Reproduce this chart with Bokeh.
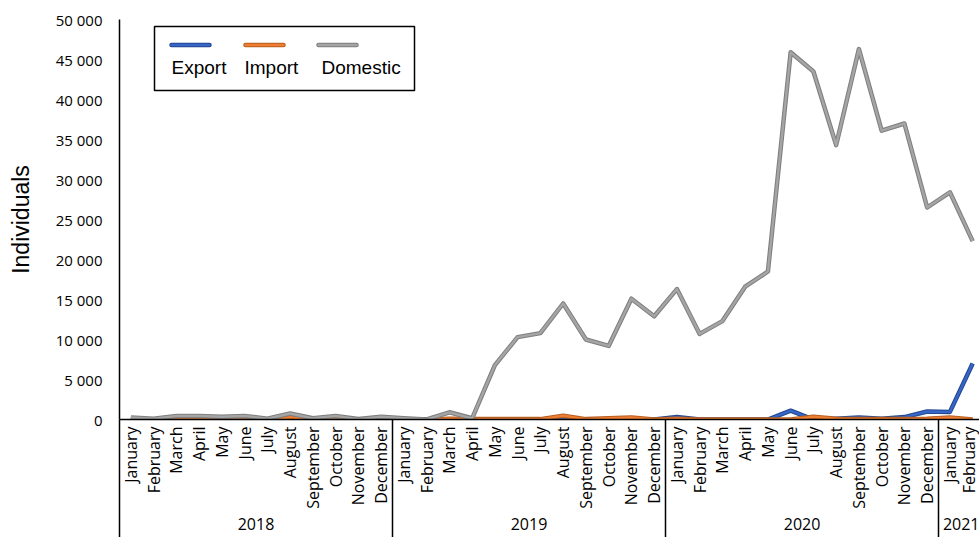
import math
from bokeh.plotting import figure
from bokeh.models import (ColumnDataSource, Range1d, FixedTicker, LinearAxis,
                          BoxAnnotation, PolyAnnotation, Label)
from bokeh.embed import file_html
from bokeh.resources import INLINE

# ---------------- data ----------------
month_names = ["January", "February", "March", "April", "May", "June", "July",
               "August", "September", "October", "November", "December"]
years = ["2018", "2019", "2020", "2021"]
months_per_year = [12, 12, 12, 2]

export = [0, 0, 0, 0, 0, 0, 0, 0, 0, 0, 0, 0,
          0, 0, 0, 0, 0, 0, 0, 150, 0, 0, 0, 0,
          300, 0, 0, 0, 0, 1100, 0, 100, 250, 100, 300, 1000,
          950, 7000]
imports = [0, 0, 100, 100, 100, 100, 0, 280, 0, 100, 0, 50,
           0, 0, 100, 50, 50, 50, 50, 480, 50, 170, 250, 0,
           100, 0, 0, 0, 0, 0, 350, 100, 50, 50, 50, 100,
           250, 0]
domestic = [250, 100, 450, 450, 350, 450, 100, 750, 150, 450, 50, 350,
            150, 0, 900, 150, 6800, 10300, 10800, 14500, 10000, 9200, 15100, 12900,
            16300, 10700, 12300, 16600, 18500, 45900, 43500, 34300, 46300, 36100, 37000, 26500,
            28400, 22300]

y_ticks = [0, 5000, 10000, 15000, 20000, 25000, 30000, 35000, 40000, 45000, 50000]
y_tick_labels = ["0", "5 000", "10 000", "15 000", "20 000", "25 000",
                 "30 000", "35 000", "40 000", "45 000", "50 000"]

series_names = ["Export", "Import", "Domestic"]
series_main = ["#3566C8", "#ED7D31", "#A5A5A5"]
series_edge = ["#24478F", "#B85F22", "#7F7F7F"]

# ---------------- derived positions ----------------
month_labels = []
for yr, n in zip(years, months_per_year):
    month_labels += month_names[:n]
x_idx = list(range(len(month_labels)))
boundaries = [-0.5]
year_centers = []
start = 0
for n in months_per_year:
    year_centers.append(start + (n - 1) / 2)
    start += n
    if start < len(month_labels):
        boundaries.append(start - 0.5)

source = ColumnDataSource(dict(x=x_idx, Export=export, Import=imports, Domestic=domestic))

# ---------------- figure ----------------
p = figure(width=979, height=537, output_backend="svg", toolbar_location=None,
           x_range=Range1d(-0.5, 37.3), y_range=Range1d(0, 50000),
           min_border_left=119, min_border_top=19, min_border_bottom=118,
           min_border_right=0)
p.xgrid.visible = False
p.ygrid.visible = False
p.outline_line_color = None
p.background_fill_color = "white"
p.border_fill_color = "white"

for name, main, edge in zip(series_names, series_main, series_edge):
    p.line("x", name, source=source, line_color=edge, line_width=4.5, line_join="round")
    p.line("x", name, source=source, line_color=main, line_width=2.4, line_join="round")

# y axis
ya = p.yaxis[0]
ya.ticker = FixedTicker(ticks=y_ticks)
ya.major_label_overrides = {v: s for v, s in zip(y_ticks, y_tick_labels)}
ya.major_tick_out = 0
ya.major_tick_in = 0
ya.minor_tick_out = 0
ya.minor_tick_in = 0
ya.axis_line_color = "black"
ya.axis_line_width = 1.5
ya.major_label_text_font = "Open Sans"
ya.major_label_text_font_size = "15px"
ya.major_label_text_color = "black"
ya.major_label_standoff = 17
ya.axis_label = "Individuals"
ya.axis_label_text_font = "Liberation Sans"
ya.axis_label_text_font_size = "23px"
ya.axis_label_text_font_style = "normal"
ya.axis_label_text_color = "black"
ya.axis_label_standoff = 19

# x axis: months (year separators drawn as long minor ticks)
xa = p.xaxis[0]
xa.ticker = FixedTicker(ticks=x_idx, minor_ticks=boundaries)
xa.major_label_overrides = {i: m for i, m in zip(x_idx, month_labels)}
xa.major_label_orientation = math.pi / 2
xa.major_tick_out = 0
xa.major_tick_in = 0
xa.minor_tick_in = 0
xa.minor_tick_out = 118
xa.minor_tick_line_color = "black"
xa.minor_tick_line_width = 1.5
xa.axis_line_color = "black"
xa.axis_line_width = 1.5
xa.major_label_text_font = "Open Sans"
xa.major_label_text_font_size = "16px"
xa.major_label_text_color = "black"
xa.major_label_standoff = -111

# x axis: years
xb = LinearAxis(ticker=FixedTicker(ticks=year_centers),
                major_label_overrides={c: y for c, y in zip(year_centers, years)})
xb.axis_line_color = None
xb.major_tick_line_color = None
xb.minor_tick_line_color = None
xb.major_tick_out = 0
xb.major_tick_in = 0
xb.minor_tick_out = 0
xb.minor_tick_in = 0
xb.major_label_standoff = 6
xb.major_label_text_font = "Open Sans"
xb.major_label_text_font_size = "16px"
xb.major_label_text_color = "black"
p.add_layout(xb, "below")

# ---------------- legend (box, samples above labels) ----------------
p.add_layout(BoxAnnotation(left=35, right=295, top=393, bottom=329,
                           left_units="screen", right_units="screen",
                           top_units="screen", bottom_units="screen",
                           fill_color="white", fill_alpha=1.0,
                           line_color="black", line_alpha=1.0, line_width=1.5))
sample_x = [52, 126, 199]
text_x = [52, 125, 202]
for name, main, edge, sx, tx in zip(series_names, series_main, series_edge, sample_x, text_x):
    p.add_layout(PolyAnnotation(xs=[sx, sx + 38], ys=[374.5, 374.5],
                                xs_units="screen", ys_units="screen",
                                line_color=edge, line_alpha=1.0, line_width=4.5,
                                line_cap="round", line_join="round", fill_alpha=0))
    p.add_layout(PolyAnnotation(xs=[sx, sx + 38], ys=[374.5, 374.5],
                                xs_units="screen", ys_units="screen",
                                line_color=main, line_alpha=1.0, line_width=2.4,
                                line_cap="round", line_join="round", fill_alpha=0))
    p.add_layout(Label(x=tx, y=352, x_units="screen", y_units="screen", text=name,
                       text_font="Liberation Sans", text_font_size="19px",
                       text_color="black", text_baseline="alphabetic"))

open("out.html", "w").write(file_html(p, INLINE))
